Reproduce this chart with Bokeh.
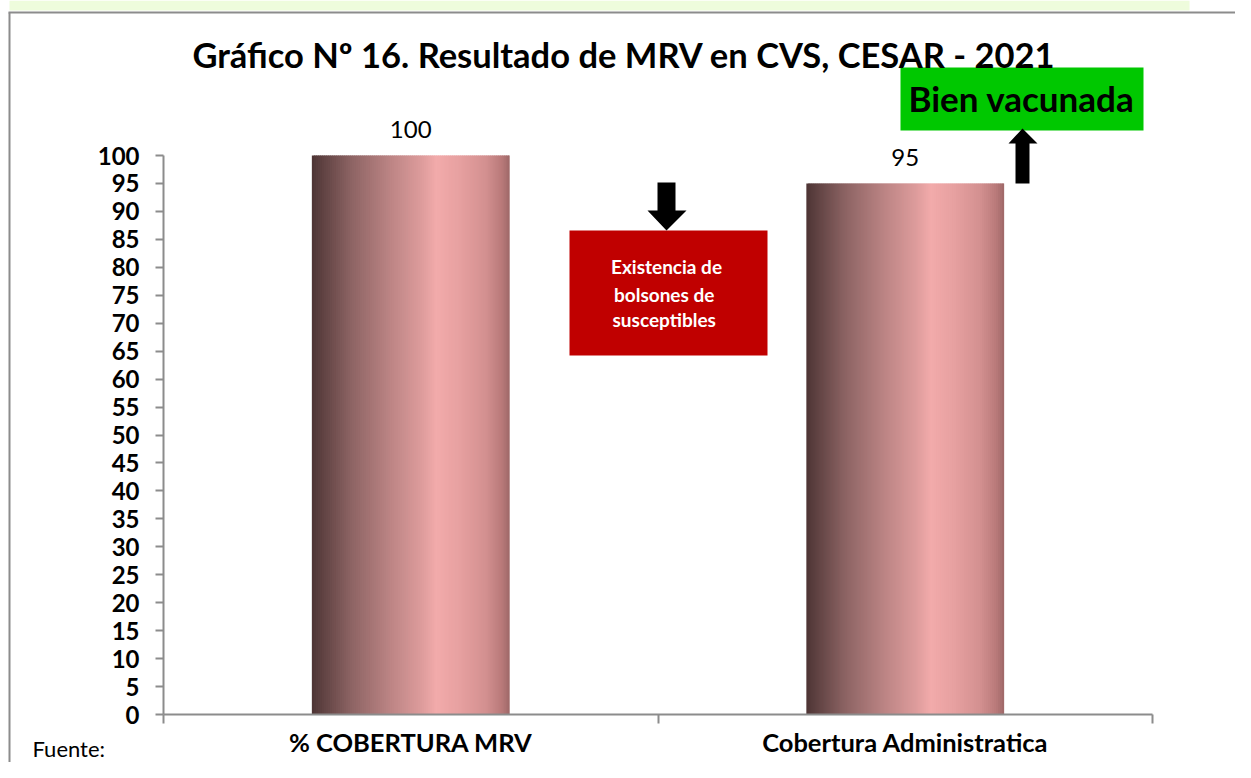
from bokeh.plotting import figure
from bokeh.models import Range1d, FixedTicker, Label
from bokeh.core.properties import value
from bokeh.embed import file_html
from bokeh.resources import INLINE

# ---------------- data ----------------
categories = ["% COBERTURA MRV", "Cobertura Administratica"]
values = [100, 95]
y_ticks = list(range(0, 101, 5))
title_text = "Gráfico Nº 16. Resultado de MRV en CVS,  CESAR  - 2021"
red_box_lines = ["Existencia de", "bolsones  de", " susceptibles"]
green_box_text = "Bien vacunada"
source_text = "Fuente:"

# ---------------- layout (pixels) ----------------
W, H = 1235, 762
AX_L, AX_R = 163, 1152        # x axis pixel extent (categories 0..2)
Y0_PX, Y100_PX = 714, 155     # y axis pixel positions of 0 and 100
X_UNIT = (AX_R - AX_L) / 2.0
Y_UNIT = (Y0_PX - Y100_PX) / 100.0
BASE_FIX = 0.42               # baseline correction (fraction of font size)


def X(px):
    return (px - AX_L) / X_UNIT


def Y(py):
    return (Y0_PX - py) / Y_UNIT


def YB(py, fs):
    """y for a text whose baseline should sit at pixel py."""
    return Y(py - BASE_FIX * fs)


FONT = "Lato"
GRAY = "#8c8c8c"

p = figure(width=W, height=H, output_backend="svg", toolbar_location=None,
           x_range=Range1d(X(0), X(W)), y_range=Range1d(Y(H), Y(0)),
           min_border_left=0, min_border_right=0, min_border_top=0, min_border_bottom=0)
p.outline_line_color = None
p.xgrid.visible = False
p.ygrid.visible = False
p.background_fill_color = "white"
p.border_fill_color = "white"

# ---------------- page decorations ----------------
p.quad(left=[X(9)], right=[X(1189)], top=[Y(0)], bottom=[Y(10)],
       fill_color="#eefcdc", line_color=None)
p.segment(x0=[X(9), X(8)], y0=[Y(12), Y(12)], x1=[X(9), X(W)], y1=[Y(H), Y(12)],
          line_color=GRAY, line_width=2)

# ---------------- bars with horizontal gradient ----------------
stops = [(0.00, (0x4d, 0x34, 0x34)), (0.05, (0x5e, 0x41, 0x41)),
         (0.20, (0x8d, 0x64, 0x64)), (0.40, (0xbd, 0x85, 0x85)),
         (0.55, (0xdc, 0x9b, 0x9b)), (0.63, (0xf2, 0xab, 0xab)),
         (0.75, (0xe6, 0xa0, 0xa0)), (0.88, (0xd3, 0x90, 0x90)),
         (0.96, (0xb9, 0x7a, 0x7a)), (1.00, (0x9e, 0x68, 0x68))]


def grad(t):
    for (t0, c0), (t1, c1) in zip(stops[:-1], stops[1:]):
        if t0 <= t <= t1:
            f = 0 if t1 == t0 else (t - t0) / (t1 - t0)
            c = [round(a + (b - a) * f) for a, b in zip(c0, c1)]
            return "#%02x%02x%02x" % tuple(c)
    return "#%02x%02x%02x" % stops[-1][1]


BAR_W = 0.4
N = 99
lefts, rights, tops, cols = [], [], [], []
for i, v in enumerate(values):
    x0 = i + 0.5 - BAR_W / 2
    for k in range(N):
        lefts.append(x0 + BAR_W * k / N)
        rights.append(min(x0 + BAR_W * (k + 1) / N + 0.003, x0 + BAR_W))
        tops.append(v)
        cols.append(grad((k + 0.5) / N))
p.quad(left=lefts, right=rights, bottom=0, top=tops, fill_color=cols, line_color=None)

# data labels
p.text(x=[i + 0.5 for i in range(len(values))], y=values, text=[str(v) for v in values],
       text_align="center", text_baseline="alphabetic", y_offset=-26,
       text_font=value(FONT), text_font_size="24px", text_color="#000000")

# ---------------- axes ----------------
p.yaxis.fixed_location = 0
p.yaxis.ticker = FixedTicker(ticks=y_ticks)
p.yaxis.bounds = (0, 100)
p.yaxis.axis_line_color = GRAY
p.yaxis.axis_line_width = 2
p.yaxis.major_tick_line_color = GRAY
p.yaxis.major_tick_line_width = 2
p.yaxis.major_tick_out = 8
p.yaxis.major_tick_in = 0
p.yaxis.minor_tick_line_color = None
p.yaxis.major_label_standoff = 16
p.yaxis.major_label_text_font = FONT
p.yaxis.major_label_text_font_style = "bold"
p.yaxis.major_label_text_font_size = "24px"
p.yaxis.major_label_text_color = "#000000"

p.xaxis.fixed_location = 0
p.xaxis.bounds = (0, 2)
p.xaxis.ticker = FixedTicker(ticks=[0.5, 1.5], minor_ticks=[0, 1, 2])
p.xaxis.major_label_overrides = {0.5: categories[0], 1.5: categories[1]}
p.xaxis.axis_line_color = GRAY
p.xaxis.axis_line_width = 2
p.xaxis.major_tick_line_color = None
p.xaxis.major_tick_out = 0
p.xaxis.major_tick_in = 0
p.xaxis.minor_tick_line_color = GRAY
p.xaxis.minor_tick_line_width = 2
p.xaxis.minor_tick_out = 9
p.xaxis.minor_tick_in = 0
p.xaxis.major_label_standoff = 3
p.xaxis.major_label_text_font = FONT
p.xaxis.major_label_text_font_style = "bold"
p.xaxis.major_label_text_font_size = "25.5px"
p.xaxis.major_label_text_color = "#000000"

# ---------------- annotations ----------------
TITLE_FS = 34.5
p.add_layout(Label(x=X(632), y=YB(68, TITLE_FS), text=title_text, text_align="center",
                   text_baseline="alphabetic", text_font=FONT, text_font_style="bold",
                   text_font_size=f"{TITLE_FS}px", text_color="#000000"))

# red box with down arrow
p.quad(left=[X(569)], right=[X(767)], top=[Y(230)], bottom=[Y(355)],
       fill_color="#c00000", line_color=None)
down_px = [(657, 182), (675, 182), (675, 210), (686, 210), (666, 230), (647, 210), (657, 210)]
p.patch([X(a) for a, b in down_px], [Y(b) for a, b in down_px], fill_color="#000000", line_color=None)
RED_FS = 19
for txt, base in zip(red_box_lines, [274, 302, 327]):
    p.add_layout(Label(x=X(666), y=YB(base, RED_FS), text=txt, text_align="center",
                       text_baseline="alphabetic", text_font=FONT, text_font_style="bold",
                       text_font_size=f"{RED_FS}px", text_color="#ffffff"))

# green box with up arrow
p.quad(left=[X(900)], right=[X(1143)], top=[Y(67)], bottom=[Y(130)],
       fill_color="#00c800", line_color=None)
up_px = [(1015, 183), (1029, 183), (1029, 143), (1037, 143), (1022, 128), (1008, 143), (1015, 143)]
p.patch([X(a) for a, b in up_px], [Y(b) for a, b in up_px], fill_color="#000000", line_color=None)
GREEN_FS = 35
p.add_layout(Label(x=X(1021), y=YB(112, GREEN_FS), text=green_box_text, text_align="center",
                   text_baseline="alphabetic", text_font=FONT, text_font_style="bold",
                   text_font_size=f"{GREEN_FS}px", text_color="#000000"))

# source note
SRC_FS = 22
p.add_layout(Label(x=X(32), y=YB(757, SRC_FS), text=source_text, text_align="left",
                   text_baseline="alphabetic", text_font=FONT,
                   text_font_size=f"{SRC_FS}px", text_color="#000000"))

open("out.html", "w").write(file_html(p, INLINE))
